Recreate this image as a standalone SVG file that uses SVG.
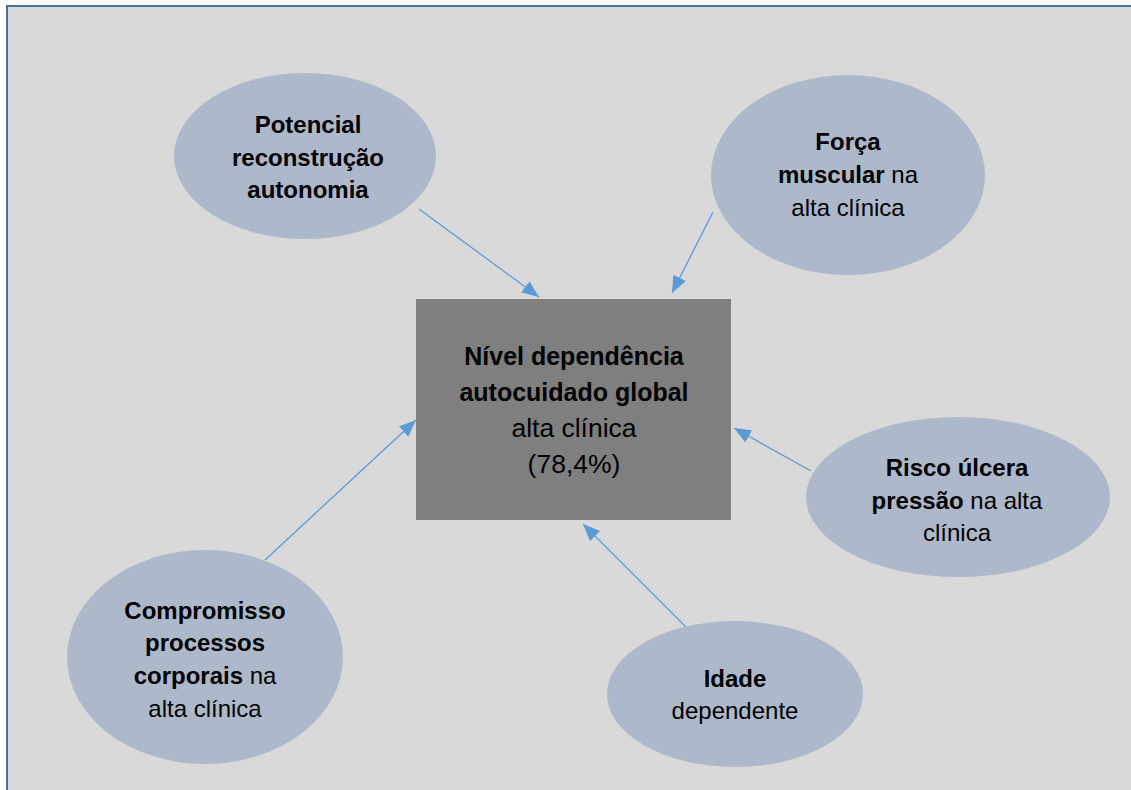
<svg xmlns="http://www.w3.org/2000/svg" width="1131" height="790" viewBox="0 0 1131 790">
<style>
.el{fill:#adb9ca}
.t{font-family:"Liberation Sans",Arial,sans-serif;fill:#000;text-anchor:middle}
.b{font-weight:bold;font-size:24px}
.r{font-size:24px}
.bb{font-weight:bold;font-size:25px}
.br{font-size:26.5px}
.c{stroke:#5b9bd5;stroke-width:1.3;fill:none;marker-end:url(#ah)}
</style>
<defs>
<marker id="ah" markerUnits="userSpaceOnUse" markerWidth="18" markerHeight="16" viewBox="0 0 18 16" refX="17" refY="8" orient="auto">
<path d="M0,1 L17,8 L0,15 Z" fill="#5b9bd5"/>
</marker>
</defs>
<rect x="0" y="0" width="1131" height="790" fill="#ffffff"/>
<rect x="7" y="6" width="1140" height="800" fill="#d9d9d9" stroke="#41719c" stroke-width="2"/>
<g id="connectors">
<line class="c" x1="419" y1="209" x2="539" y2="297"/>
<line class="c" x1="713" y1="212" x2="672" y2="293"/>
<line class="c" x1="811" y1="471" x2="734" y2="428"/>
<line class="c" x1="690" y1="631" x2="583" y2="524"/>
<line class="c" x1="265" y1="560" x2="416" y2="420"/>
</g>
<g id="center">
<rect x="416" y="299" width="315" height="221" fill="#7f7f7f"/>
<text class="t bb" x="574" y="365">Nível dependência</text>
<text class="t bb" x="574" y="401">autocuidado global</text>
<text class="t br" x="574" y="437">alta clínica</text>
<text class="t br" x="574" y="473">(78,4%)</text>
</g>
<g id="potencial">
<ellipse class="el" cx="305" cy="156" rx="131" ry="83"/>
<text class="t b" x="308" y="133">Potencial</text>
<text class="t b" x="308" y="166">reconstrução</text>
<text class="t b" x="308" y="198">autonomia</text>
</g>
<g id="forca">
<ellipse class="el" cx="848" cy="175" rx="137" ry="100"/>
<text class="t b" x="848" y="150">Força</text>
<text class="t r" x="848" y="183"><tspan font-weight="bold">muscular</tspan> na</text>
<text class="t r" x="848" y="216">alta clínica</text>
</g>
<g id="risco">
<ellipse class="el" cx="958" cy="497" rx="152" ry="80"/>
<text class="t b" x="957" y="476">Risco úlcera</text>
<text class="t r" x="957" y="509"><tspan font-weight="bold">pressão</tspan> na alta</text>
<text class="t r" x="957" y="541">clínica</text>
</g>
<g id="idade">
<ellipse class="el" cx="735" cy="694" rx="128" ry="73"/>
<text class="t b" x="735" y="687">Idade</text>
<text class="t r" x="735" y="719">dependente</text>
</g>
<g id="compromisso">
<ellipse class="el" cx="205" cy="657" rx="138" ry="107"/>
<text class="t b" x="205" y="619">Compromisso</text>
<text class="t b" x="205" y="651">processos</text>
<text class="t r" x="205" y="684"><tspan font-weight="bold">corporais</tspan> na</text>
<text class="t r" x="205" y="717">alta clínica</text>
</g>
</svg>
